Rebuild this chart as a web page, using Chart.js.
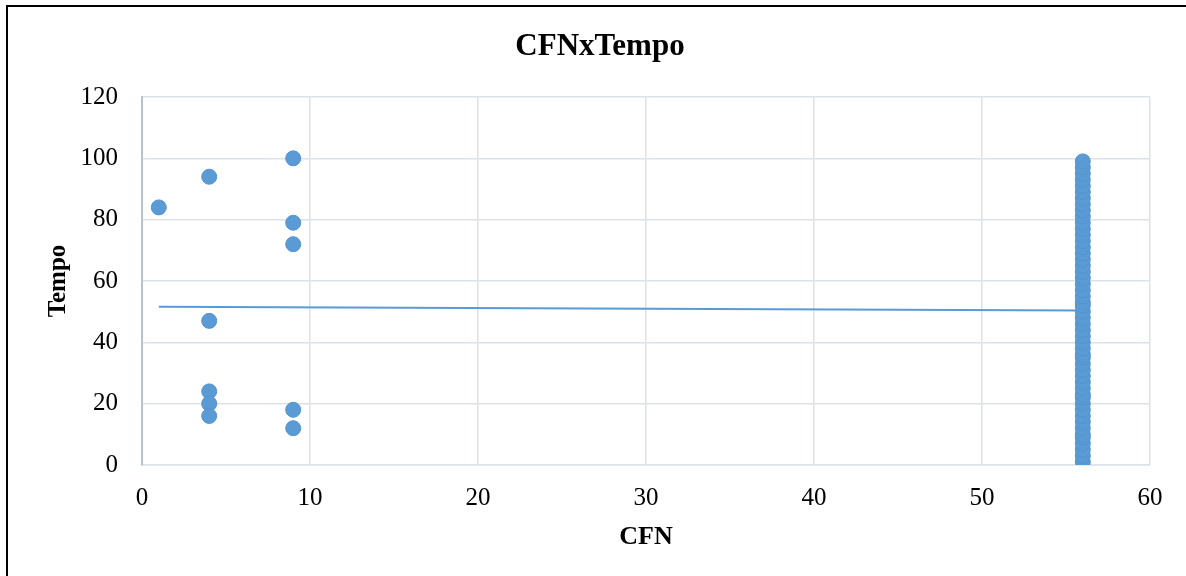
<!DOCTYPE html>
<html>
<head>
<meta charset="utf-8">
<script src="https://cdn.jsdelivr.net/npm/chart.js@4/dist/chart.umd.min.js"></script>
<style>
  html, body { margin: 0; padding: 0; background: #fff; }
  #frame {
    position: absolute; left: 6px; top: 5px;
    width: 1300px; height: 700px;
    border-left: 2px solid #000; border-top: 2px solid #000;
  }
  #wrap { position: absolute; left: 0; top: 0; width: 1186px; height: 576px; }
</style>
</head>
<body>
<div id="frame"></div>
<div id="wrap"><canvas id="chart"></canvas></div>
<script>
  // CFN vs Tempo scatter + linear trendline
  const BLUE = '#5b9bd5';

  // points
  const cfnLow   = [1, 4, 4, 4, 4, 4, 9, 9, 9, 9, 9];
  const tempoLow = [84, 94, 47, 24, 20, 16, 100, 79, 72, 18, 12];

  // the dense column at CFN = 56
  const cfnHighValue = 56;
  const tempoHigh = [1, 3, 5, 7, 9, 10, 12, 14, 16, 18, 20, 22, 23, 25, 27, 29,
    31, 33, 35, 36, 38, 40, 42, 44, 46, 48, 50, 52, 53, 55, 57, 59, 61, 63,
    65, 67, 69, 71, 73, 75, 77, 79, 81, 83, 85, 87, 89, 91, 93, 95, 97, 99];

  // trendline endpoints
  const trendX = [1, 56];
  const trendY = [51.6, 50.4];

  const yTicks = [0, 20, 40, 60, 80, 100, 120];
  const xTicks = [0, 10, 20, 30, 40, 50, 60];

  const chartTitle = 'CFNxTempo';

  const points = cfnLow.map((x, i) => ({ x: x, y: tempoLow[i] }))
    .concat(tempoHigh.map(y => ({ x: cfnHighValue, y: y })));
  const trend = trendX.map((x, i) => ({ x: x, y: trendY[i] }));

  const SERIF = '"Liberation Serif", "DejaVu Serif", serif';

  // title is centred on the outer frame, not on the plot, so draw it by hand
  const frameTitle = {
    id: 'frameTitle',
    afterDraw(chart) {
      const ctx = chart.ctx;
      ctx.save();
      ctx.font = 'bold 31px ' + SERIF;
      ctx.fillStyle = '#000';
      ctx.textAlign = 'center';
      ctx.textBaseline = 'middle';
      ctx.fillText(chartTitle, 600, 47);
      ctx.restore();
    }
  };

  new Chart(document.getElementById('chart'), {
    type: 'scatter',
    data: {
      datasets: [
        {
          type: 'line',
          data: trend,
          borderColor: BLUE,
          borderWidth: 2,
          pointRadius: 0,
          fill: false,
        },
        {
          data: points,
          backgroundColor: BLUE,
          borderColor: '#5593cc',
          borderWidth: 1,
          pointRadius: 7.5,
        },
      ]
    },
    plugins: [frameTitle],
    options: {
      responsive: true,
      maintainAspectRatio: false,
      animation: false,
      layout: { padding: { left: 0, right: 36, top: 97, bottom: 0 } },
      plugins: {
        legend: { display: false },
        tooltip: { enabled: false },
        title: { display: false },
      },
      scales: {
        x: {
          type: 'linear',
          min: 0, max: 60,
          afterBuildTicks: s => { s.ticks = xTicks.map(v => ({ value: v })); },
          afterFit: s => { s.height = 111; },
          grid: { color: '#dde1e8', lineWidth: 1.5, drawTicks: false },
          border: { color: '#dde1e8', width: 1.5 },
          ticks: { color: '#000', padding: 18, font: { family: SERIF, size: 25 } },
          title: {
            display: true, text: 'CFN', color: '#000',
            font: { family: SERIF, size: 26, weight: 'bold' },
            padding: { top: 0, bottom: 23 },
          },
        },
        y: {
          type: 'linear',
          min: 0, max: 120,
          afterBuildTicks: s => { s.ticks = yTicks.map(v => ({ value: v })); },
          afterFit: s => { s.width = 142; },
          grid: { color: '#dde1e8', lineWidth: 1.5, drawTicks: false },
          border: { color: '#b4c3db', width: 2 },
          ticks: { color: '#000', padding: 24, font: { family: SERIF, size: 25 } },
          title: {
            display: true, text: 'Tempo', color: '#000',
            font: { family: SERIF, size: 25, weight: 'bold' },
            padding: { top: 44, bottom: 0 },
          },
        },
      },
    },
  });
</script>
</body>
</html>
